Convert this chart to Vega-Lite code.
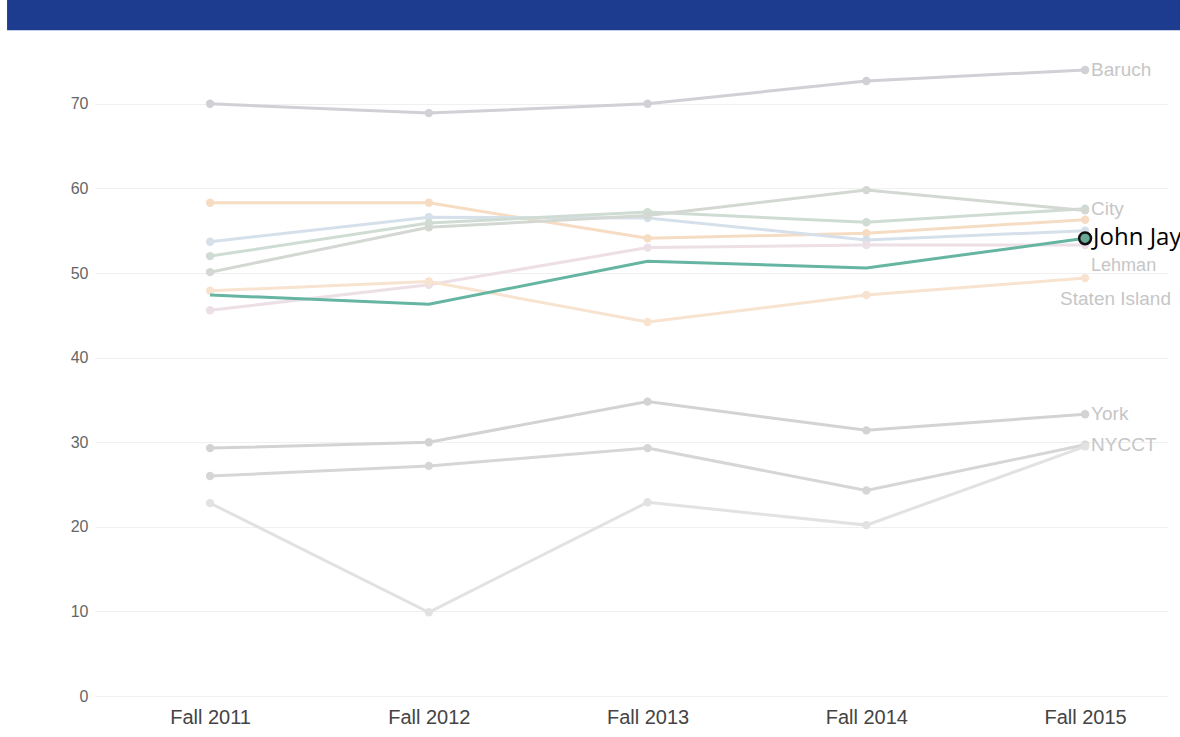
{
  "$schema": "https://vega.github.io/schema/vega-lite/v6.json",
  "width": 1073,
  "height": 696,
  "autosize": {"type": "none"},
  "padding": {"left": 95, "top": 0, "right": 12, "bottom": 41},
  "background": "white",
  "config": {"view": {"stroke": null}, "font": "Liberation Sans"},
  "data": {
    "values": [
      {"college": "Baruch", "year": 2011, "value": 70.0},
      {"college": "Baruch", "year": 2012, "value": 68.9},
      {"college": "Baruch", "year": 2013, "value": 70.0},
      {"college": "Baruch", "year": 2014, "value": 72.7},
      {"college": "Baruch", "year": 2015, "value": 74.0},
      {"college": "Queens", "year": 2011, "value": 58.3},
      {"college": "Queens", "year": 2012, "value": 58.3},
      {"college": "Queens", "year": 2013, "value": 54.1},
      {"college": "Queens", "year": 2014, "value": 54.7},
      {"college": "Queens", "year": 2015, "value": 56.3},
      {"college": "Hunter", "year": 2011, "value": 53.7},
      {"college": "Hunter", "year": 2012, "value": 56.6},
      {"college": "Hunter", "year": 2013, "value": 56.5},
      {"college": "Hunter", "year": 2014, "value": 53.9},
      {"college": "Hunter", "year": 2015, "value": 55.0},
      {"college": "City", "year": 2011, "value": 52.0},
      {"college": "City", "year": 2012, "value": 55.9},
      {"college": "City", "year": 2013, "value": 57.2},
      {"college": "City", "year": 2014, "value": 56.0},
      {"college": "City", "year": 2015, "value": 57.6},
      {"college": "Brooklyn", "year": 2011, "value": 50.1},
      {"college": "Brooklyn", "year": 2012, "value": 55.4},
      {"college": "Brooklyn", "year": 2013, "value": 56.8},
      {"college": "Brooklyn", "year": 2014, "value": 59.8},
      {"college": "Brooklyn", "year": 2015, "value": 57.4},
      {"college": "Lehman", "year": 2011, "value": 45.6},
      {"college": "Lehman", "year": 2012, "value": 48.6},
      {"college": "Lehman", "year": 2013, "value": 53.0},
      {"college": "Lehman", "year": 2014, "value": 53.3},
      {"college": "Lehman", "year": 2015, "value": 53.3},
      {"college": "Staten Island", "year": 2011, "value": 47.9},
      {"college": "Staten Island", "year": 2012, "value": 49.0},
      {"college": "Staten Island", "year": 2013, "value": 44.2},
      {"college": "Staten Island", "year": 2014, "value": 47.4},
      {"college": "Staten Island", "year": 2015, "value": 49.4},
      {"college": "York", "year": 2011, "value": 29.3},
      {"college": "York", "year": 2012, "value": 30.0},
      {"college": "York", "year": 2013, "value": 34.8},
      {"college": "York", "year": 2014, "value": 31.4},
      {"college": "York", "year": 2015, "value": 33.3},
      {"college": "NYCCT", "year": 2011, "value": 26.0},
      {"college": "NYCCT", "year": 2012, "value": 27.2},
      {"college": "NYCCT", "year": 2013, "value": 29.3},
      {"college": "NYCCT", "year": 2014, "value": 24.3},
      {"college": "NYCCT", "year": 2015, "value": 29.7},
      {"college": "Medgar Evers", "year": 2011, "value": 22.8},
      {"college": "Medgar Evers", "year": 2012, "value": 9.9},
      {"college": "Medgar Evers", "year": 2013, "value": 22.9},
      {"college": "Medgar Evers", "year": 2014, "value": 20.2},
      {"college": "Medgar Evers", "year": 2015, "value": 29.5},
      {"college": "John Jay", "year": 2011, "value": 47.4},
      {"college": "John Jay", "year": 2012, "value": 46.3},
      {"college": "John Jay", "year": 2013, "value": 51.4},
      {"college": "John Jay", "year": 2014, "value": 50.6},
      {"college": "John Jay", "year": 2015, "value": 54.1}
    ]
  },
  "layer": [
    {
      "data": {"values": [{"part": "header"}]},
      "mark": {"type": "rect", "fill": "#1d3c8f", "opacity": 1, "clip": false},
      "encoding": {
        "x": {
          "datum": 2010.072,
          "type": "quantitative",
          "scale": {"domain": [2010.474, 2015.379], "nice": false, "zero": false},
          "axis": {
            "values": [2011, 2012, 2013, 2014, 2015],
            "labelExpr": "'Fall ' + datum.value",
            "grid": false,
            "ticks": false,
            "domain": false,
            "labelPadding": 11,
            "labelFontSize": 20,
            "labelColor": "#444444",
            "title": null
          }
        },
        "x2": {"datum": 2016.5},
        "y": {
          "datum": 78.7,
          "type": "quantitative",
          "scale": {"domain": [0, 82.27], "nice": false, "zero": true},
          "axis": {
            "values": [0, 10, 20, 30, 40, 50, 60, 70],
            "grid": true,
            "gridColor": "#f0f0f0",
            "ticks": false,
            "domain": false,
            "labelPadding": 7,
            "labelFontSize": 16,
            "labelColor": "#666666",
            "title": null
          }
        },
        "y2": {"datum": 82.27}
      }
    },
    {
      "encoding": {
        "x": {
          "field": "year",
          "type": "quantitative",
          "scale": {"domain": [2010.474, 2015.379], "nice": false, "zero": false},
          "axis": {
            "values": [2011, 2012, 2013, 2014, 2015],
            "labelExpr": "'Fall ' + datum.value",
            "grid": false,
            "ticks": false,
            "domain": false,
            "labelPadding": 11,
            "labelFontSize": 20,
            "labelColor": "#444444",
            "title": null
          }
        },
        "y": {
          "field": "value",
          "type": "quantitative",
          "scale": {"domain": [0, 82.27], "nice": false, "zero": true},
          "axis": {
            "values": [0, 10, 20, 30, 40, 50, 60, 70],
            "grid": true,
            "gridColor": "#f0f0f0",
            "ticks": false,
            "domain": false,
            "labelPadding": 7,
            "labelFontSize": 16,
            "labelColor": "#666666",
            "title": null
          }
        }
      },
      "layer": [
        {
          "transform": [{"filter": "datum.college != 'John Jay'"}],
          "mark": {"type": "line", "strokeWidth": 3},
          "encoding": {
            "detail": {"field": "college"},
            "color": {
              "field": "college",
              "type": "nominal",
              "legend": null,
              "scale": {
                "domain": ["Baruch", "Queens", "Hunter", "City", "Brooklyn", "Lehman", "Staten Island", "York", "NYCCT", "Medgar Evers"],
                "range": ["#d0d0d6", "#f6dcc3", "#d6e0ea", "#cfdcd4", "#d3d8d3", "#eddfe6", "#f7e3cf", "#d3d3d3", "#d6d6d6", "#e2e2e2"]
              }
            }
          }
        },
        {
          "transform": [{"filter": "datum.college != 'John Jay'"}],
          "mark": {"type": "point", "filled": true, "size": 70, "opacity": 1},
          "encoding": {
            "color": {"field": "college", "type": "nominal", "legend": null}
          }
        },
        {
          "transform": [{"filter": "datum.college == 'John Jay'"}],
          "mark": {"type": "line", "strokeWidth": 3, "color": "#65b5a2"},
          "encoding": {}
        },
        {
          "transform": [{"filter": "datum.college == 'John Jay' && datum.year == 2015"}],
          "mark": {"type": "point", "filled": true, "size": 140, "fill": "#6aa897", "stroke": "#111111", "strokeWidth": 2.5, "opacity": 1},
          "encoding": {}
        },
        {
          "transform": [{"filter": "datum.year == 2015 && indexof(['Baruch', 'City', 'York', 'NYCCT'], datum.college) >= 0"}],
          "mark": {"type": "text", "align": "left", "baseline": "middle", "dx": 6, "fontSize": 19, "color": "#c6c6c6"},
          "encoding": {"text": {"field": "college"}}
        },
        {
          "transform": [{"filter": "datum.year == 2015 && datum.college == 'Lehman'"}],
          "mark": {"type": "text", "align": "left", "baseline": "middle", "dx": 6, "dy": 21, "fontSize": 18, "color": "#c6c6c6"},
          "encoding": {"text": {"field": "college"}}
        },
        {
          "transform": [{"filter": "datum.year == 2015 && datum.college == 'Staten Island'"}],
          "mark": {"type": "text", "align": "left", "baseline": "middle", "dx": -25, "dy": 21, "fontSize": 19, "color": "#c6c6c6"},
          "encoding": {"text": {"field": "college"}}
        },
        {
          "transform": [{"filter": "datum.year == 2015 && datum.college == 'John Jay'"}],
          "mark": {"type": "text", "align": "left", "baseline": "middle", "dx": 8, "fontSize": 24, "font": "Open Sans", "color": "#000000"},
          "encoding": {"text": {"field": "college"}}
        }
      ]
    }
  ]
}
